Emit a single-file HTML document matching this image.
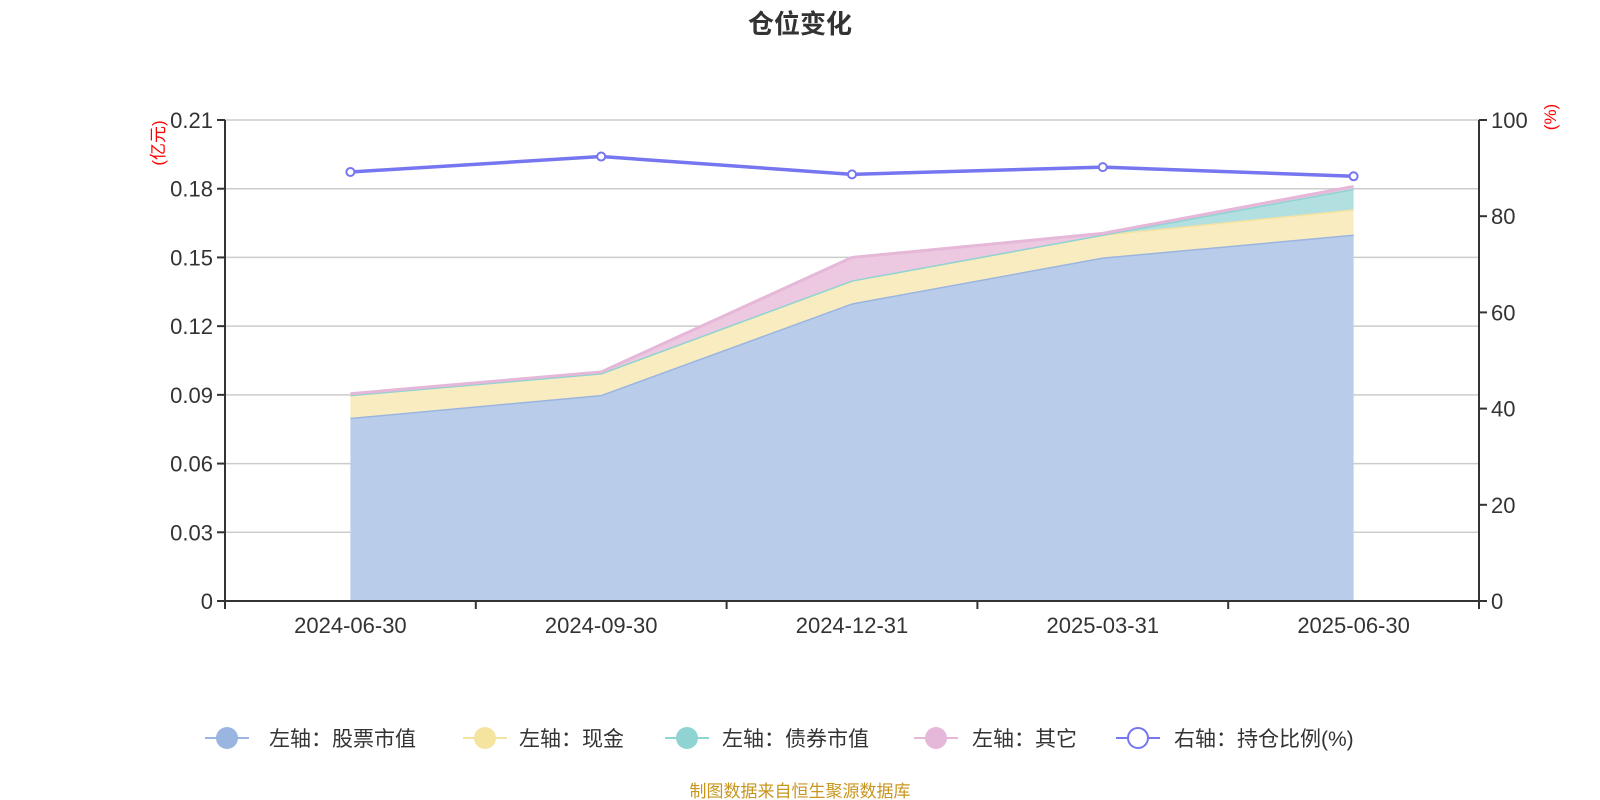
<!DOCTYPE html>
<html><head><meta charset="utf-8"><style>
body{margin:0;background:#fff;}
svg{display:block;font-family:"Liberation Sans","Noto Sans CJK SC",sans-serif;}
</style></head><body>
<svg id="chart" width="1600" height="800" viewBox="0 0 1600 800">
<text x="800" y="33" text-anchor="middle" font-size="26" font-weight="bold" fill="#333">仓位变化</text>
<g id="grid"></g><g id="areas"></g><g id="axes"></g><g id="line"></g>
<text transform="translate(164,143) rotate(-90)" text-anchor="middle" font-size="17" fill="red">(亿元)</text>
<text transform="translate(1556,117) rotate(-90)" text-anchor="middle" font-size="17" fill="red">(%)</text>
<g id="legend"></g>
<text x="800" y="797" text-anchor="middle" font-size="17" fill="#c8961e">制图数据来自恒生聚源数据库</text>
</svg>
<script>
const categories=["2024-06-30","2024-09-30","2024-12-31","2025-03-31","2025-06-30"];
const stock=[0.08,0.09,0.13,0.15,0.16];
const cash=[0.01,0.0095,0.01,0.01,0.011];
const bond=[0,0,0,0,0.009];
const other=[0.0005,0.0005,0.01,0.0005,0.001];
const ratio=[89.2,92.4,88.7,90.2,88.3];
const leftTicks=[0,0.03,0.06,0.09,0.12,0.15,0.18,0.21];
const rightTicks=[0,20,40,60,80,100];
const NS="http://www.w3.org/2000/svg";
const L=225,R=1479,T=120,B=601;
const band=(R-L)/categories.length;
const x=i=>L+band*(i+0.5);
const yL=v=>B-(v/0.21)*(B-T);
const yR=v=>B-(v/100)*(B-T);
function mk(tag,attrs,parent){const e=document.createElementNS(NS,tag);for(const k in attrs)e.setAttribute(k,attrs[k]);parent.appendChild(e);return e;}
const grid=document.getElementById('grid'),axes=document.getElementById('axes'),areas=document.getElementById('areas'),lineG=document.getElementById('line'),leg=document.getElementById('legend');
leftTicks.forEach(t=>{
 const g=mk('line',{x1:L,x2:R,y1:yL(t),y2:yL(t),stroke:'#ccc','stroke-width':1.5},grid);
 
 
 mk('line',{x1:L-8,x2:L,y1:yL(t),y2:yL(t),stroke:'#333','stroke-width':2},axes);
 const tx=mk('text',{x:L-12,y:yL(t)+8,'text-anchor':'end','font-size':22,fill:'#333'},axes);
 tx.textContent=String(t);
 
 
});
rightTicks.forEach(t=>{
 mk('line',{x1:R,x2:R+8,y1:yR(t),y2:yR(t),stroke:'#333','stroke-width':2},axes);
 const tx=mk('text',{x:R+12,y:yR(t)+8,'font-size':22,fill:'#333'},axes);
 tx.textContent=String(t);
 
 
});
mk('line',{x1:L,x2:L,y1:T,y2:B+8,stroke:'#333','stroke-width':2},axes);
mk('line',{x1:R,x2:R,y1:T,y2:B+8,stroke:'#333','stroke-width':2},axes);
mk('line',{x1:L,x2:R,y1:B,y2:B,stroke:'#333','stroke-width':2},axes);
for(let i=0;i<=categories.length;i++)mk('line',{x1:L+band*i,x2:L+band*i,y1:B,y2:B+8,stroke:'#333','stroke-width':2},axes);
categories.forEach((c,i)=>{
 const tx=mk('text',{x:x(i),y:B+32,'text-anchor':'middle','font-size':22,fill:'#333'},axes);
 tx.textContent=c;
 
 
});
const series=[[stock,'#9ab5e0','#b9cdea','stock-area'],[cash,'#f5e3a0','#f9ecc0','cash-area'],[bond,'#8fd3d3','#b2e0e0','bond-area'],[other,'#e5b7d8','#ecc9e0','other-area']];
let base=categories.map(()=>0);
series.forEach(([vals,lc,fc,name])=>{
 const top=base.map((b,i)=>b+vals[i]);
 let d='M'+categories.map((c,i)=>x(i)+','+yL(top[i])).join('L');
 for(let i=categories.length-1;i>=0;i--)d+='L'+x(i)+','+yL(base[i]);
 const p=mk('path',{d:d+'Z',fill:fc,stroke:'none'},areas);
 
 
 const ln=mk('polyline',{points:categories.map((c,i)=>x(i)+','+yL(top[i])).join(' '),fill:'none',stroke:lc,'stroke-width':3},areas);
 
 
 base=top;
});
const pl=mk('polyline',{points:ratio.map((v,i)=>x(i)+','+yR(v)).join(' '),fill:'none',stroke:'#7676f0','stroke-width':3.5},lineG);


ratio.forEach((v,i)=>{
 const c=mk('circle',{cx:x(i),cy:yR(v),r:4,fill:'#fff',stroke:'#7676f0','stroke-width':2},lineG);
 
 
});
const legItems=[['左轴：股票市值','#9ab5e0',227,269,false],['左轴：现金','#f5e3a0',485,519,false],['左轴：债券市值','#8fd3d3',687,722,false],['左轴：其它','#e5b7d8',936,972,false],['右轴：持仓比例(%)','#7676f0',1138,1174,true]];
legItems.forEach(([t,c,cx,tx0,hollow])=>{
 const g=mk('g',{},leg);
 
 
 mk('line',{x1:cx-22,x2:cx+22,y1:738,y2:738,stroke:c,'stroke-width':2},g);
 mk('circle',{cx:cx,cy:738,r:hollow?10:11,fill:hollow?'#fff':c,stroke:c,'stroke-width':hollow?2:0},g);
 const te=mk('text',{x:tx0,y:746,'font-size':21,fill:'#333'},g);
 te.textContent=t;
});
</script>
</body></html>
